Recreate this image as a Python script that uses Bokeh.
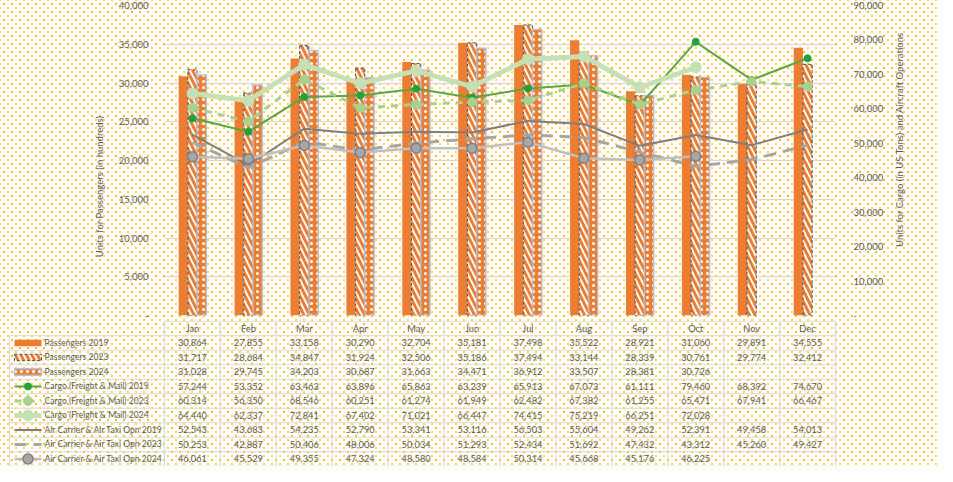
import math
import numpy as np
from bokeh.plotting import figure
from bokeh.models import Range1d, LinearAxis, FixedTicker, NumeralTickFormatter, ColumnDataSource
from bokeh.layouts import column, row
from bokeh.embed import file_html
from bokeh.resources import INLINE
from bokeh.core.properties import value

# ---------------- data ----------------
months = ["Jan", "Feb", "Mar", "Apr", "May", "Jun", "Jul", "Aug", "Sep", "Oct", "Nov", "Dec"]
passengers_2019 = [30864, 27855, 33158, 30290, 32704, 35181, 37498, 35522, 28921, 31060, 29891, 34555]
passengers_2023 = [31717, 28684, 34847, 31924, 32506, 35186, 37494, 33144, 28339, 30761, 29774, 32412]
passengers_2024 = [31028, 29745, 34203, 30687, 31663, 34471, 36912, 33507, 28381, 30726, None, None]
cargo_2019 = [57244, 53352, 63463, 63896, 65863, 63239, 65913, 67073, 61111, 79460, 68392, 74670]
cargo_2023 = [60314, 56350, 68546, 60251, 61274, 61949, 62482, 67382, 61255, 65471, 67941, 66467]
cargo_2024 = [64440, 62337, 72841, 67402, 71021, 66447, 74415, 75219, 66251, 72028, None, None]
aircraft_2019 = [52543, 43683, 54235, 52790, 53341, 53116, 56503, 55604, 49262, 52391, 49458, 54013]
aircraft_2023 = [50253, 42887, 50406, 48006, 50034, 51293, 52434, 51692, 47432, 43312, 45260, 49427]
aircraft_2024 = [46061, 45529, 49355, 47324, 48580, 48584, 50314, 45668, 45176, 46225, None, None]

series_names = [
    "Passengers 2019", "Passengers 2023", "Passengers 2024",
    "Cargo (Freight & Mail) 2019", "Cargo (Freight & Mail) 2023", "Cargo (Freight & Mail) 2024",
    "Air Carrier & Air Taxi Opn 2019", "Air Carrier & Air Taxi Opn 2023", "Air Carrier & Air Taxi Opn 2024",
]
series_values = [passengers_2019, passengers_2023, passengers_2024,
                 cargo_2019, cargo_2023, cargo_2024,
                 aircraft_2019, aircraft_2023, aircraft_2024]

left_ticks = [0, 5000, 10000, 15000, 20000, 25000, 30000, 35000, 40000]
right_ticks = [0, 10000, 20000, 30000, 40000, 50000, 60000, 70000, 80000, 90000]
left_title = "Units for Passengers (in hundreds)"
right_title = "Units for Cargo (in US Tons) and Aircraft Operations"

# ---------------- styles ----------------
FONT = "Lato"
TXT = "#595959"
ORANGE = "#ED7D31"

bar_styles = [
    dict(fill_color=ORANGE, line_color=None),
    dict(fill_color="white", hatch_pattern="left_diagonal_line", hatch_color=ORANGE,
         hatch_weight=3, hatch_scale=11, line_color="#44546A", line_dash="3 2", line_width=1),
    dict(fill_color=ORANGE, hatch_pattern="dot", hatch_color="white", hatch_weight=2,
         hatch_scale=6, line_color="#B4C0D4", line_width=1.5),
]
line_styles = [
    dict(line_color="#5BA83C", line_width=2),
    dict(line_color="#A9D18E", line_width=3, line_dash="7 6"),
    dict(line_color="#C5E0B4", line_width=5),
    dict(line_color="#7F7F7F", line_width=2),
    dict(line_color="#A6A6A6", line_width=3, line_dash="12 7"),
    dict(line_color="#BFBFBF", line_width=2.5),
]
marker_styles = [
    dict(size=7, fill_color="#1FA33A", line_color="#1FA33A"),
    dict(size=9, fill_color="#A9D18E", line_color="#A9D18E"),
    dict(size=11, fill_color="#C5E0B4", line_color="#C5E0B4"),
    None,
    None,
    dict(size=10, fill_color="#A6A6A6", line_color="#7F7F7F", line_width=1.5),
]

W = 937
H1 = 320
H2 = 146
LTW, RTW = 110, 50           # widths of the strips holding the axis titles
PW = W - LTW - RTW           # chart figure width
BL, BR, BT, BB = 54, 52, 5, 5

bg = {
    "background-color": "white",
    "background-image": "radial-gradient(circle, #FFBE00 0.9px, rgba(255,255,255,0) 1.4px), "
                        "radial-gradient(circle, #FFD65C 0.9px, rgba(255,255,255,0) 1.4px)",
    "background-size": "8px 8px, 8px 8px",
    "background-position": "0px 0px, 4px 4px",
}

def blank_fig(w, h, xr, yr):
    f = figure(width=w, height=h, x_range=xr, y_range=yr,
               output_backend="svg", toolbar_location=None,
               min_border=0, min_border_left=0, min_border_right=0,
               min_border_top=0, min_border_bottom=0,
               x_axis_location=None, y_axis_location=None,
               background_fill_color=None, border_fill_color=None, outline_line_color=None)
    f.grid.visible = False
    return f

# ---------------- chart ----------------
p = figure(width=PW, height=H1, x_range=Range1d(0, 12), y_range=Range1d(0, 40000),
           output_backend="svg", toolbar_location=None,
           min_border_left=BL, min_border_right=BR, min_border_top=BT, min_border_bottom=BB,
           background_fill_color=None, border_fill_color=None, outline_line_color=None,
           x_axis_location=None)

lt = FixedTicker(ticks=left_ticks)
p.yaxis.ticker = lt
p.ygrid.ticker = lt
p.ygrid.grid_line_color = "#D9D9D9"
p.ygrid.grid_line_width = 1
for g in p.xgrid:
    g.visible = False

def style_axis(ax, lbl_standoff):
    ax.formatter = NumeralTickFormatter(format="0,0")
    ax.major_label_overrides = {0: "-"}
    ax.axis_line_color = None
    ax.major_tick_line_color = None
    ax.minor_tick_line_color = None
    ax.major_label_text_font = FONT
    ax.major_label_text_font_size = "9.5px"
    ax.major_label_text_color = TXT
    ax.major_label_standoff = lbl_standoff

style_axis(p.yaxis[0], 10)
p.extra_y_ranges = {"ops": Range1d(0, 90000)}
rax = LinearAxis(y_range_name="ops", ticker=FixedTicker(ticks=right_ticks))
style_axis(rax, 12)
p.add_layout(rax, "right")

centers = np.arange(len(months)) + 0.5
offsets = [-0.165, 0.0, 0.165]
for k in range(3):
    vals = np.array([np.nan if v is None else v for v in series_values[k]], dtype=float)
    src = ColumnDataSource(dict(x=centers + offsets[k], top=vals))
    p.vbar(x="x", top="top", width=0.165, source=src, **bar_styles[k])

for k in range(6):
    vals = np.array([np.nan if v is None else v for v in series_values[3 + k]], dtype=float)
    src = ColumnDataSource(dict(x=centers, y=vals))
    p.line(x="x", y="y", source=src, y_range_name="ops", line_join="round", **line_styles[k])
    if marker_styles[k] is not None:
        p.scatter(x="x", y="y", source=src, y_range_name="ops", marker="circle", **marker_styles[k])

# ---------------- axis titles (both read bottom-to-top) ----------------
ltf = blank_fig(LTW, H1, Range1d(0, LTW), Range1d(0, H1))
ltf.text(x=[99], y=[H1 - 186], text=[left_title], angle=math.pi / 2, text_align="center",
         text_baseline="middle", text_font=value(FONT), text_font_size="9.5px", text_color=TXT)
rtf = blank_fig(RTW, H1, Range1d(0, RTW), Range1d(0, H1))
rtf.text(x=[12], y=[H1 - 139], text=[right_title], angle=math.pi / 2, text_align="center",
         text_baseline="middle", text_font=value(FONT), text_font_size="9.5px", text_color=TXT)

# ---------------- data table ----------------
col_w = 671 / 12.0
xl = (8 - 172) / col_w
xr = (945 - 172) / col_w
t = blank_fig(W, H2, Range1d(xl, xr), Range1d(9.52, -0.55))

for fig in (p, t, ltf, rtf):
    if "frame_align" in fig.properties():
        fig.frame_align = False

label_left = (17 - 172) / col_w
key_l = (22 - 172) / col_w
key_r = (49 - 172) / col_w
text_x = (52 - 172) / col_w
nrows = len(series_names)

# grid lines
hx0 = [0.0] + [label_left] * (nrows + 1)
hy = [-0.5] + [r + 0.5 for r in range(nrows + 1)]
t.segment(x0=hx0, y0=hy, x1=[12.0] * len(hy), y1=hy, line_color="#D9D9D9", line_width=1)
vx = [label_left] + [float(i) for i in range(13)]
vy0 = [0.5] + [-0.5] * 13
t.segment(x0=vx, y0=vy0, x1=vx, y1=[nrows + 0.5] * len(vx), line_color="#D9D9D9", line_width=1)

# header
t.text(x=list(centers), y=[0] * 12, text=months, text_align="center", text_baseline="middle",
       text_font=value(FONT), text_font_size="9.3px", text_color=TXT)

# values
xs, ys, txts = [], [], []
for r, vals in enumerate(series_values):
    for i, v in enumerate(vals):
        if v is not None:
            xs.append(centers[i]); ys.append(r + 1); txts.append(f"{v:,}")
t.text(x=xs, y=ys, text=txts, text_align="center", text_baseline="middle",
       text_font=value(FONT), text_font_size="9.3px", text_color=TXT)

# legend labels
t.text(x=[text_x] * nrows, y=list(range(1, nrows + 1)), text=series_names, text_align="left",
       text_baseline="middle", text_font=value(FONT), text_font_size="8.6px", text_color=TXT)

# legend keys
for k in range(3):
    r = k + 1
    t.quad(left=[key_l], right=[key_r], top=[r - 0.22], bottom=[r + 0.22], **bar_styles[k])
for k in range(6):
    r = k + 4
    t.segment(x0=[key_l], y0=[r], x1=[key_r], y1=[r], **line_styles[k])
    if marker_styles[k] is not None:
        t.scatter(x=[(key_l + key_r) / 2], y=[r], marker="circle", **marker_styles[k])

top = row(ltf, p, rtf, spacing=0)
layout = column(top, t, spacing=0, styles=bg)

open("out.html", "w").write(file_html(layout, INLINE))
